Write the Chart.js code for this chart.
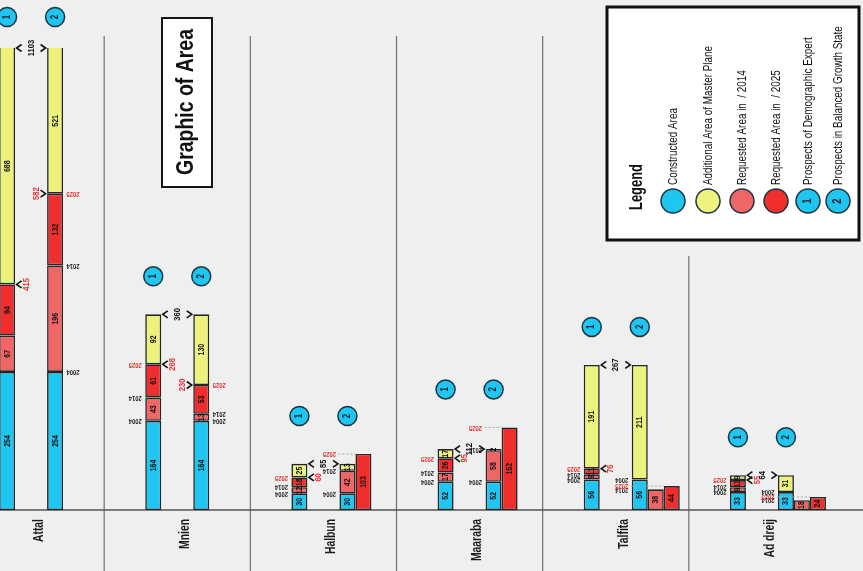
<!DOCTYPE html>
<html>
<head>
<meta charset="utf-8">
<title>Graphic of Area</title>
<script src="https://cdn.jsdelivr.net/npm/chart.js@4.4.1/dist/chart.umd.min.js"></script>
<style>
  html, body { margin: 0; padding: 0; background: #efefef; }
  #wrap { position: relative; width: 863px; height: 571px; overflow: hidden; }
  #areaChart { position: absolute; top: 0; }
</style>
</head>
<body>
<div id="wrap"><canvas id="areaChart" width="905" height="571"></canvas></div>
<script>
const towns = ["Attal", "Mnien", "Halbun", "Maaraba", "Talfita", "Ad dreij"];

// prospect 1 : demographic expert
const built1 = [254, 164, 30, 52, 56, 33];
const req2014_1 = [67, 43, 12, 17, 9, 9];
const req2025_1 = [94, 61, 18, 26, 11, 13];
const plan1 = [688, 92, 25, 17, 191, 9];

// prospect 2 : balanced growth state
const built2 = [254, 164, 30, 52, 56, 33];
const req2014_2 = [196, 13, 42, 58, null, null];
const req2025_2 = [132, 53, null, null, null, null];
const plan2 = [521, 130, 13, 2, 211, 31];

// prospect 2 requests that stand as their own bars
const sep2014 = [null, null, null, null, 38, 18];
const sep2025 = [null, null, 103, 152, 44, 24];

const years = ["2004", "2014", "2025"];
const legendLabels = [
  "Constructed Area",
  "Additional Area of Master Plane",
  "Requested Area in  / 2014",
  "Requested Area in  / 2025",
  "Prospects of Demographic Expert",
  "Prospects in Balanced Growth State"
];

const CYAN = "#1ec6f1";
const YELLOW = "#ecf27c";
const PINK = "#f06565";
const RED = "#f02e2e";
const EDGE = "#262626";
const FONT = '"Liberation Sans", Arial, sans-serif';
const SHIFT = 42; // first group is cut by the left edge

const canvas = document.getElementById("areaChart");
canvas.style.left = -SHIFT + "px";

// the separate bar next to prospect 2 is the 2014 one when it exists
const near = towns.map((t, i) => (sep2014[i] != null ? sep2014[i] : sep2025[i]));
const nearColor = towns.map((t, i) => (sep2014[i] != null ? PINK : RED));
const far = towns.map((t, i) => (sep2014[i] != null ? sep2025[i] : null));

const spacer = (name) => ({ label: "", data: towns.map(() => null), stack: name });
const seg = (label, data, color, stack) => ({
  label, data, stack,
  backgroundColor: color,
  borderColor: EDGE,
  borderWidth: 1.6,
  borderSkipped: false
});

// text turned a quarter left, squeezed along its length (narrow font look)
function rotText(ctx, txt, x, y, font, color, opts) {
  const o = opts || {};
  ctx.save();
  ctx.translate(x, y);
  ctx.rotate(o.angle === undefined ? -Math.PI / 2 : o.angle);
  ctx.font = font;
  let sx = o.squeeze || 0.8;
  if (o.fit) sx = o.fit / ctx.measureText(txt).width;
  ctx.scale(sx, 1);
  ctx.fillStyle = color;
  ctx.textAlign = o.align || "center";
  ctx.textBaseline = "middle";
  ctx.fillText(txt, 0, 0);
  ctx.restore();
}

function chevron(ctx, tipX, y, dir) {
  ctx.save();
  ctx.strokeStyle = "#111";
  ctx.lineWidth = 1.6;
  ctx.beginPath();
  ctx.moveTo(tipX - dir * 5, y - 3.5);
  ctx.lineTo(tipX, y);
  ctx.lineTo(tipX - dir * 5, y + 3.5);
  ctx.stroke();
  ctx.restore();
}

function numCircle(ctx, x, y, r, txt, fill) {
  ctx.save();
  ctx.beginPath();
  ctx.arc(x, y, r, 0, Math.PI * 2);
  ctx.fillStyle = fill || CYAN;
  ctx.fill();
  ctx.lineWidth = 1.5;
  ctx.strokeStyle = "#1d3440";
  ctx.stroke();
  ctx.restore();
  if (txt) rotText(ctx, txt, x, y, "bold " + Math.round(r) + "px " + FONT, "#10222c");
}

const annotate = {
  id: "annotate",
  beforeDatasetsDraw(chart) {
    const ctx = chart.ctx, x = chart.scales.x, y = chart.scales.y;
    ctx.save();
    ctx.strokeStyle = "#6f6f6f";
    ctx.lineWidth = 1.2;
    for (let i = 1; i < towns.length; i++) {
      const sx = (x.getPixelForValue(i - 1) + x.getPixelForValue(i)) / 2;
      const top = sx - SHIFT > 600 ? 256 : 36;
      ctx.beginPath();
      ctx.moveTo(sx, top);
      ctx.lineTo(sx, chart.height);
      ctx.stroke();
    }
    const y0 = y.getPixelForValue(0);
    ctx.strokeStyle = "#555";
    ctx.lineWidth = 1.5;
    ctx.beginPath();
    ctx.moveTo(0, y0);
    ctx.lineTo(chart.width, y0);
    ctx.stroke();
    ctx.restore();
  },
  afterDatasetsDraw(chart) {
    const ctx = chart.ctx, x = chart.scales.x, y = chart.scales.y, area = chart.chartArea;
    const py = (v) => Math.max(y.getPixelForValue(v), area.top);
    const el = (di, i) => chart.getDatasetMeta(di).data[i];
    const segFont = "bold 9px " + FONT;
    const numFont = "bold 9.5px " + FONT;
    const yearFont = "bold 6.5px " + FONT;

    // town names under the axis
    towns.forEach((t, i) => {
      rotText(ctx, t, x.getPixelForValue(i) + 8, 519, "bold 14px " + FONT, "#1a1a1a",
        { align: "right", squeeze: 0.74 });
    });

    // numbers inside the segments
    [2, 3, 4, 5, 8, 9, 10, 11, 12, 13].forEach((di) => {
      chart.data.datasets[di].data.forEach((v, i) => {
        if (v == null) return;
        const e = el(di, i);
        const top = Math.max(e.y, area.top);
        rotText(ctx, String(v), e.x, (top + e.base) / 2, segFont, "#111", { squeeze: 0.78 });
      });
    });

    const year = (txt, xx, v, red) =>
      rotText(ctx, txt, xx, py(v), yearFont, red ? "#e5322f" : "#1c1c1c",
        { angle: Math.PI, squeeze: 0.9 });

    towns.forEach((t, i) => {
      const b1 = el(2, i), b2 = el(8, i);
      const half = b1.width / 2;
      const x1 = b1.x, x2 = b2.x;

      // prospect 1
      const a04 = built1[i], a14 = a04 + req2014_1[i], a25 = a14 + req2025_1[i];
      const tot1 = a25 + plan1[i];
      year(years[0], x1 - half - 10, a04);
      year(years[1], x1 - half - 10, a14);
      year(years[2], x1 - half - 10, a25, true);
      chevron(ctx, x1 + half + 1.5, py(a25), -1);
      rotText(ctx, String(a25), x1 + half + 11, py(a25), numFont, "#e5322f");

      // prospect 2
      const c04 = built2[i];
      const c14 = req2014_2[i] != null ? c04 + req2014_2[i] : null;
      const tot2 = c04 + (req2014_2[i] || 0) + (req2025_2[i] || 0) + plan2[i];
      if (req2025_2[i] != null) {
        const c25 = c14 + req2025_2[i];
        year(years[0], x2 + half + 10, c04);
        year(years[1], x2 + half + 10, c14);
        year(years[2], x2 + half + 10, c25, true);
        chevron(ctx, x2 - half - 1.5, py(c25), 1);
        rotText(ctx, String(c25), x2 - half - 11, py(c25), numFont, "#e5322f");
      } else {
        const lx = x2 - half - 10;
        year(years[0], lx, c04);
        if (c14 != null) year(years[1], lx, c14);
        else if (sep2014[i] != null) year(years[1], lx, sep2014[i]);
        if (sep2025[i] != null) {
          const redBar = sep2014[i] != null ? el(13, i) : el(12, i);
          const ry = py(sep2025[i]);
          year(years[2], lx, sep2025[i], true);
          ctx.save();
          ctx.strokeStyle = "#a9a9a9";
          ctx.lineWidth = 1;
          ctx.setLineDash([2, 2]);
          ctx.beginPath();
          ctx.moveTo(x2 - half - 1, ry);
          ctx.lineTo(redBar.x - redBar.width / 2, ry);
          ctx.stroke();
          ctx.restore();
        }
      }

      // total of the two prospects
      const tot = Math.max(tot1, tot2);
      const ty = py(tot);
      chevron(ctx, x1 + half + 1.5, ty, -1);
      chevron(ctx, x2 - half - 1.5, ty, 1);
      rotText(ctx, String(tot), (x1 + x2) / 2, ty, numFont, "#111");

      // prospect markers
      const tops = [tot1, tot2, sep2014[i], sep2025[i]].filter((v) => v != null).map(py);
      const cy = Math.max(Math.min(...tops) - 38, 17);
      numCircle(ctx, x1, cy, 9.5, "1");
      numCircle(ctx, x2, cy, 9.5, "2");
    });
  },
  afterDraw(chart) {
    const ctx = chart.ctx;
    ctx.save();
    ctx.translate(SHIFT, 0);

    // title box
    ctx.fillStyle = "#fff";
    ctx.fillRect(162, 18, 50, 169);
    ctx.lineWidth = 2;
    ctx.strokeStyle = "#151515";
    ctx.strokeRect(162, 18, 50, 169);
    rotText(ctx, "Graphic of Area", 187, 102, "bold 23px " + FONT, "#111", { fit: 146 });

    // legend box
    ctx.fillStyle = "#fff";
    ctx.fillRect(607, 7, 252, 233);
    ctx.lineWidth = 3;
    ctx.strokeStyle = "#111";
    ctx.strokeRect(607, 7, 252, 233);
    rotText(ctx, "Legend", 637, 187, "bold 18px " + FONT, "#111", { fit: 46 });
    const lx = [673, 708, 742, 776, 808, 838];
    const fills = [CYAN, YELLOW, PINK, RED, CYAN, CYAN];
    legendLabels.forEach((lab, k) => {
      numCircle(ctx, lx[k], 201, 12, k >= 4 ? String(k - 3) : "", fills[k]);
      rotText(ctx, lab, lx[k], 185, "13px " + FONT, "#111", { align: "left", squeeze: 0.76 });
    });
    ctx.restore();
  }
};

new Chart(canvas, {
  type: "bar",
  data: {
    labels: towns,
    datasets: [
      spacer("pad1"), spacer("pad2"),
      seg("Constructed Area", built1, CYAN, "s1"),
      seg("Requested Area in / 2014", req2014_1, PINK, "s1"),
      seg("Requested Area in / 2025", req2025_1, RED, "s1"),
      seg("Additional Area of Master Plane", plan1, YELLOW, "s1"),
      spacer("gap1"), spacer("gap2"),
      seg("Constructed Area", built2, CYAN, "s2"),
      seg("Requested Area in / 2014", req2014_2, PINK, "s2"),
      seg("Requested Area in / 2025", req2025_2, RED, "s2"),
      seg("Additional Area of Master Plane", plan2, YELLOW, "s2"),
      seg("Requested Area (separate)", near, nearColor, "n"),
      seg("Requested Area in / 2025", far, RED, "f")
    ]
  },
  options: {
    responsive: false,
    animation: false,
    layout: { padding: { top: 48, right: 28, left: 0, bottom: 0 } },
    datasets: { bar: { barPercentage: 1, categoryPercentage: 0.876 } },
    plugins: { legend: { display: false }, tooltip: { enabled: false } },
    scales: {
      x: {
        stacked: true,
        grid: { display: false, drawTicks: false },
        border: { display: false },
        ticks: { display: false },
        afterFit: (scale) => { scale.height = 61; }
      },
      y: {
        stacked: true,
        display: false,
        min: 0,
        max: 850
      }
    }
  },
  plugins: [annotate]
});
</script>
</body>
</html>
